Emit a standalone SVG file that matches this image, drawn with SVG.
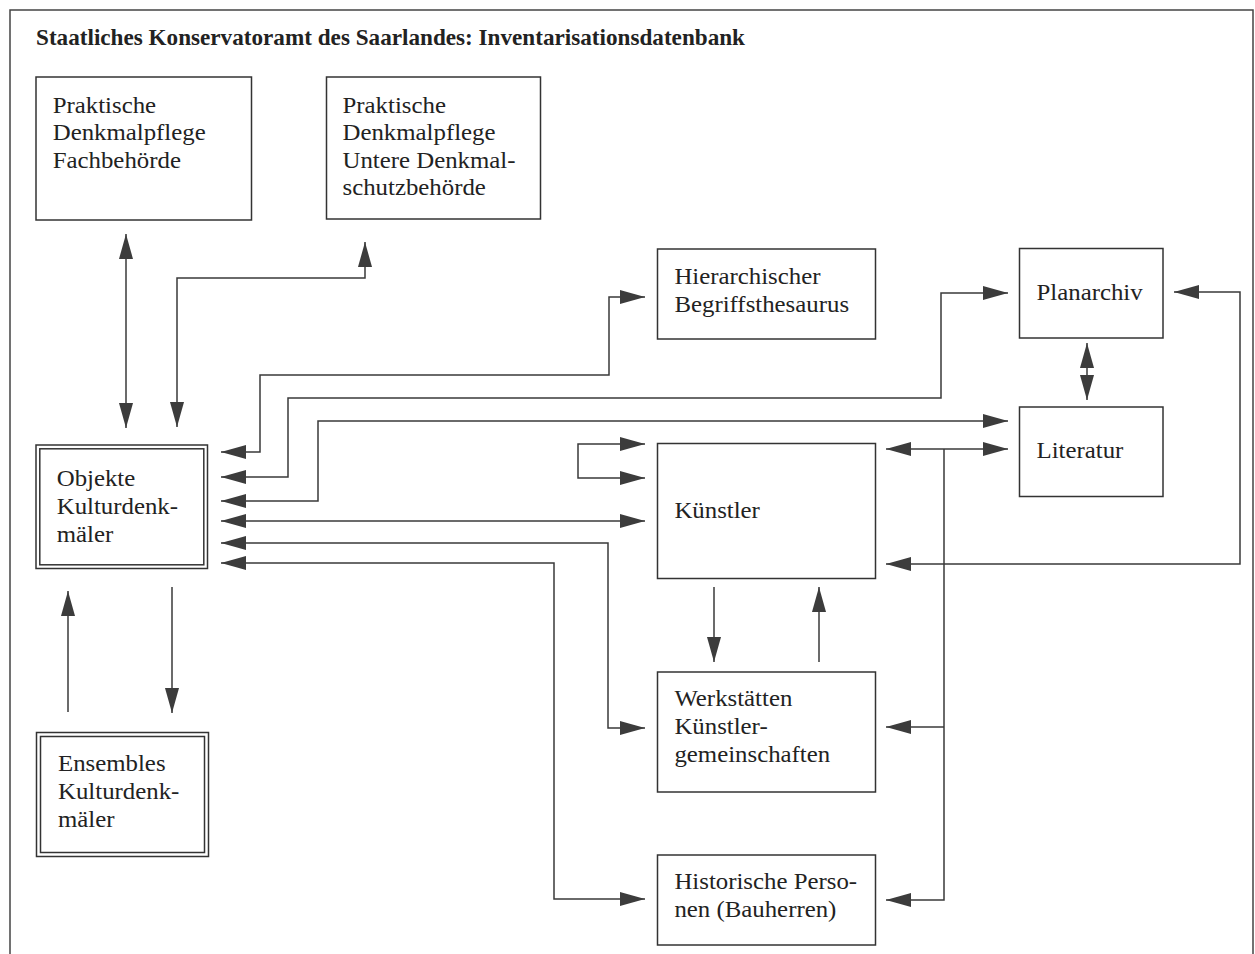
<svg xmlns="http://www.w3.org/2000/svg" width="1255" height="954" viewBox="0 0 1255 954">
<defs>
<style>
.box{fill:none;stroke:#333;stroke-width:1.5}
.t{font-family:"Liberation Serif","Times New Roman",serif;font-size:23px;fill:#222}
.title{font-family:"Liberation Serif","Times New Roman",serif;font-size:23px;font-weight:bold;fill:#222}
.c{fill:none;stroke:#3a3a3a;stroke-width:1.5}
.b{marker-start:url(#ah);marker-end:url(#ah)}
.e{marker-end:url(#ah)}
</style>
<marker id="ah" markerUnits="userSpaceOnUse" markerWidth="25" markerHeight="14" refX="25" refY="7" orient="auto-start-reverse" viewBox="0 0 25 14">
<path d="M0,0 L25,7 L0,14 Z" fill="#3c3c3c"/>
</marker>
</defs>
<rect width="1255" height="954" fill="#fff"/>
<path d="M10,960 L10,10 L1253,10 L1253,960" fill="none" stroke="#444" stroke-width="1.5"/>
<text class="title" x="36" y="45" textLength="709" lengthAdjust="spacingAndGlyphs">Staatliches Konservatoramt des Saarlandes: Inventarisationsdatenbank</text>

<g id="fachbehoerde">
<rect class="box" x="36" y="77" width="215.5" height="143"/>
<text class="t" transform="translate(52.7,0) scale(1.08,1)"><tspan x="0" y="113">Praktische</tspan><tspan x="0" y="140.5">Denkmalpflege</tspan><tspan x="0" y="168">Fachbehörde</tspan></text>
</g>
<g id="untere">
<rect class="box" x="326.5" y="77" width="214" height="142"/>
<text class="t" transform="translate(342.5,0) scale(1.08,1)"><tspan x="0" y="113">Praktische</tspan><tspan x="0" y="140.5">Denkmalpflege</tspan><tspan x="0" y="168">Untere Denkmal-</tspan><tspan x="0" y="195.5">schutzbehörde</tspan></text>
</g>
<g id="thesaurus">
<rect class="box" x="657.5" y="249" width="218" height="90"/>
<text class="t" transform="translate(674.4,0) scale(1.08,1)"><tspan x="0" y="284">Hierarchischer</tspan><tspan x="0" y="312">Begriffsthesaurus</tspan></text>
</g>
<g id="planarchiv">
<rect class="box" x="1019.5" y="248.5" width="143.5" height="89.5"/>
<text class="t" transform="translate(1036.5,0) scale(1.08,1)"><tspan x="0" y="300">Planarchiv</tspan></text>
</g>
<g id="literatur">
<rect class="box" x="1019.5" y="407" width="143.5" height="89.5"/>
<text class="t" transform="translate(1036.5,0) scale(1.08,1)"><tspan x="0" y="458">Literatur</tspan></text>
</g>
<g id="kuenstler">
<rect class="box" x="657.5" y="443.5" width="218" height="135"/>
<text class="t" transform="translate(674.4,0) scale(1.08,1)"><tspan x="0" y="518">Künstler</tspan></text>
</g>
<g id="werkstaetten">
<rect class="box" x="657.5" y="672" width="218" height="120"/>
<text class="t" transform="translate(674.4,0) scale(1.08,1)"><tspan x="0" y="706">Werkstätten</tspan><tspan x="0" y="734.5">Künstler-</tspan><tspan x="0" y="762.5">gemeinschaften</tspan></text>
</g>
<g id="historische">
<rect class="box" x="657.5" y="855" width="218" height="90"/>
<text class="t" transform="translate(674.4,0) scale(1.08,1)"><tspan x="0" y="889">Historische Perso-</tspan><tspan x="0" y="917">nen (Bauherren)</tspan></text>
</g>
<g id="objekte">
<rect class="box" x="36" y="445" width="171.5" height="123.5"/>
<rect class="box" x="39.8" y="448.8" width="164" height="116"/>
<text class="t" transform="translate(56.7,0) scale(1.08,1)"><tspan x="0" y="486">Objekte</tspan><tspan x="0" y="514">Kulturdenk-</tspan><tspan x="0" y="542">mäler</tspan></text>
</g>
<g id="ensembles">
<rect class="box" x="36.5" y="732.5" width="172" height="124"/>
<rect class="box" x="40.5" y="736.5" width="164" height="116"/>
<text class="t" transform="translate(58,0) scale(1.08,1)"><tspan x="0" y="771">Ensembles</tspan><tspan x="0" y="799">Kulturdenk-</tspan><tspan x="0" y="827">mäler</tspan></text>
</g>

<g id="connectors">
<path class="c b" d="M126,234 L126,428"/>
<path class="c b" d="M177,427 L177,278 L365,278 L365,242"/>
<path class="c b" d="M221,452 L260,452 L260,375 L609,375 L609,297 L645,297"/>
<path class="c b" d="M221,477 L288,477 L288,398 L941,398 L941,293 L1008,293"/>
<path class="c b" d="M221,501 L318,501 L318,421 L1008,421"/>
<path class="c b" d="M221,521 L645,521"/>
<path class="c b" d="M221,543 L608,543 L608,728 L645,728"/>
<path class="c b" d="M221,563 L554,563 L554,899 L645,899"/>
<path class="c b" d="M645,444 L578,444 L578,478 L645,478"/>
<path class="c e" d="M714,587 L714,662"/>
<path class="c e" d="M819,662 L819,587"/>
<path class="c b" d="M1087,343 L1087,400"/>
<path class="c b" d="M1174,292 L1240,292 L1240,564 L886,564"/>
<path class="c b" d="M886,449 L1008,449"/>
<path class="c e" d="M944,449 L944,900 L886,900"/>
<path class="c e" d="M944,727 L886,727"/>
<path class="c e" d="M68,712 L68,591"/>
<path class="c e" d="M172,587 L172,713"/>
</g>
</svg>
